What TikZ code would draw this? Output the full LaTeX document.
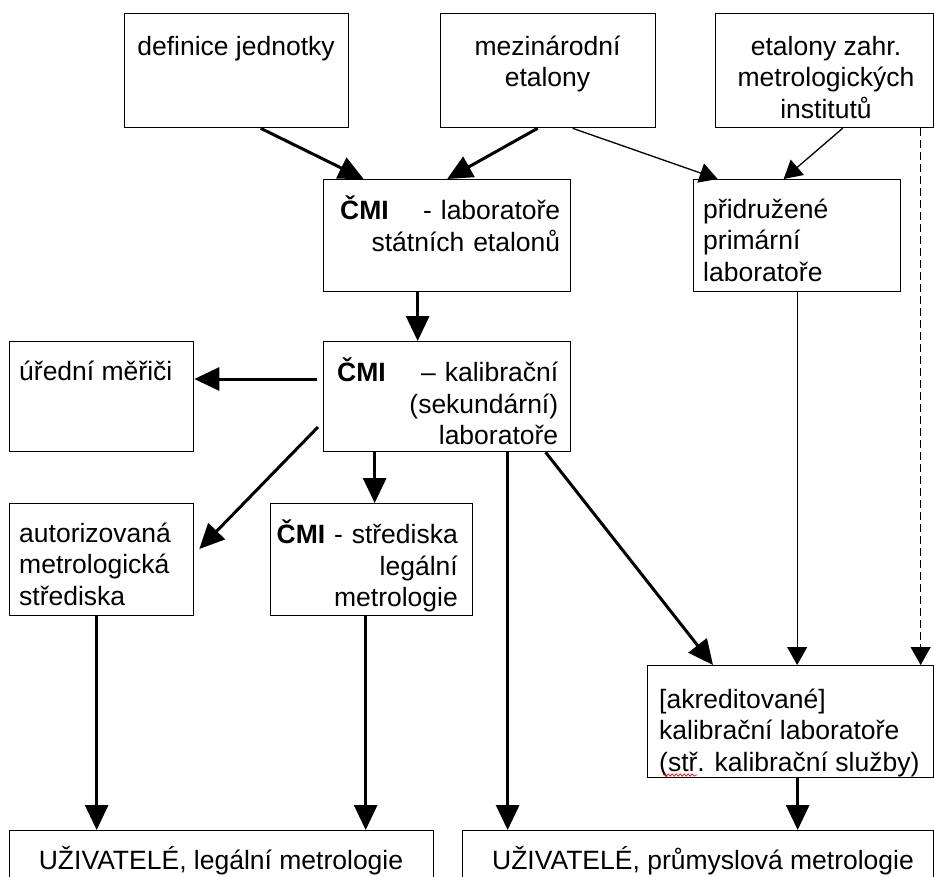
\documentclass[tikz,border=0pt]{standalone}
\usepackage{fontspec}
\setmainfont{Liberation Sans}
\usetikzlibrary{arrows.meta,calc,decorations.pathmorphing}
\begin{document}
\begin{tikzpicture}[x=1pt,y=-1pt,
  box/.style={draw,line width=1.3pt,anchor=north west,inner sep=0pt},
  txt/.style={inner sep=0pt,font=\fontsize{26.5}{31.5}\selectfont},
  thk/.style={line width=3pt,-{Triangle[length=25pt,width=23pt]}},
  thn/.style={line width=1.3pt,-{Triangle[length=18pt,width=20pt]}},
  dsh/.style={line width=1.3pt,dash pattern=on 8pt off 4pt,-{Triangle[length=18pt,width=20pt]}}]
\clip (0,0) rectangle (934,876);
\fill[white] (0,0) rectangle (934,876);
% boxes
\node[box,minimum width=224pt,minimum height=114pt] (b1) at (124,13) {};
\node[box,minimum width=215pt,minimum height=114pt] (b2) at (440,13) {};
\node[box,minimum width=218pt,minimum height=114pt] (b3) at (715,13) {};
\node[box,minimum width=247pt,minimum height=112pt] (lab) at (323,179) {};
\node[box,minimum width=207pt,minimum height=112pt] (prid) at (693,179) {};
\node[box,minimum width=247pt,minimum height=110pt] (kal) at (323,341) {};
\node[box,minimum width=184pt,minimum height=110pt] (ured) at (9,341) {};
\node[box,minimum width=184pt,minimum height=112pt] (aut) at (9,503) {};
\node[box,minimum width=202pt,minimum height=112pt] (str) at (270,503) {};
\node[box,minimum width=286pt,minimum height=112pt] (akr) at (647,665) {};
\node[box,minimum width=424pt,minimum height=60pt] (u1) at (9,830) {};
\node[box,minimum width=471pt,minimum height=60pt] (u2) at (462,830) {};
% texts
\node[txt,anchor=north,align=center] (t1) at (236,33) {\strut definice jednotky};
\node[txt,anchor=north,align=center] (t2) at (547.5,33) {\strut mezinárodní\\etalony};
\node[txt,anchor=north,align=center] (t3) at (826,33) {\strut etalony zahr.\\metrologických\\institutů};
\node[txt,anchor=north west,text width=220pt,align=right] (t4) at (340,196) {\strut\textbf{ČMI}\hfill - laboratoře\\státních etalonů};
\node[txt,anchor=north west,align=left] (t5) at (703,196) {\strut přidružené\\primární\\laboratoře};
\node[txt,anchor=north west,text width=221pt,align=right] (t6) at (337,358) {\strut\textbf{ČMI}\hfill – kalibrační\\(sekundární)\\laboratoře};
\node[txt,anchor=north west,align=left] (t7) at (19,358) {\strut úřední měřiči};
\node[txt,anchor=north west,align=left] (t8) at (19,520) {\strut autorizovaná\\metrologická\\střediska};
\node[txt,anchor=north east,text width=185pt,align=right] (t9) at (458,520) {\strut\textbf{ČMI} - střediska\\legální\\metrologie};
\node[txt,anchor=north west,align=left] (t10) at (659,686) {\strut [akreditované]\\kalibrační laboratoře\\(stř. kalibrační služby)};
\node[txt,anchor=north,align=center] (t11) at (221,846) {\strut UŽIVATELÉ, legální metrologie};
\node[txt,anchor=north,align=center] (t12) at (703,846) {\strut UŽIVATELÉ, průmyslová metrologie};
% spell-check squiggle
\draw[red,line width=0.7pt,decorate,decoration={snake,amplitude=1.2pt,segment length=4pt}] (663,775) -- (697,775);
% connectors
\draw[thk] ($(b1.south)+(24,0)$) -- ($(lab.north)+(-83.5,0)$);
\draw[thk] ($(b2.south)+(-10.5,0)$) -- (lab.north);
\draw[thn] ($(b2.south)+(24.5,0)$) -- ($(prid.north)+(-79.5,0)$);
\draw[thn] ($(b3.south)+(18,0)$) -- ($(prid.north)+(-13.5,0)$);
\draw[dsh] ($(b3.south)+(96,0)$) -- ($(akr.north)+(130,0)$);
\draw[thk] ($(lab.south)+(-29.5,0)$) -- ($(kal.north)+(-29.5,0)$);
\draw[thk] ($(kal.north west)+(-6,38)$) -- ($(ured.north east)+(0,38)$);
\draw[thk] ($(kal.north west)+(-5,86)$) -- ($(aut.north east)+(5,46)$);
\draw[thk] ($(kal.south)+(-72.5,0)$) -- ($(str.north)+(3,0)$);
\draw[thk] ($(kal.south)+(60.5,0)$) -- ($(u2.north)+(-190.5,0)$);
\draw[thk] ($(kal.south)+(98.5,0)$) -- ($(akr.north west)+(66,0)$);
\draw[thn] (prid.south) -- (prid.south |- akr.north);
\draw[thk] ($(akr.south)+(7,0)$) -- ($(u2.north)+(99.5,0)$);
\draw[thk] ($(aut.south)+(-5,0)$) -- ($(u1.north)+(-125,0)$);
\draw[thk] ($(str.south)+(-6,0)$) -- ($(u1.north)+(144,0)$);
\end{tikzpicture}
\end{document}
